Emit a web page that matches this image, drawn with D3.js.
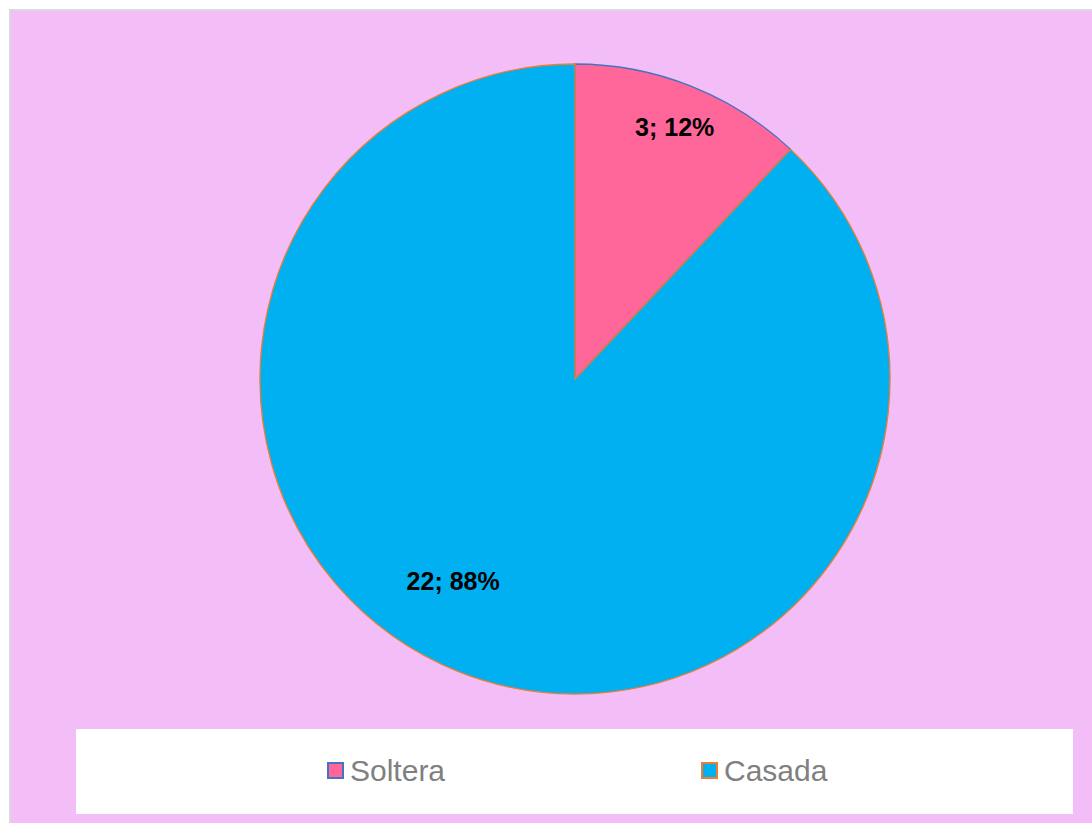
<!DOCTYPE html>
<html>
<head>
<meta charset="utf-8">
<script src="https://cdn.jsdelivr.net/npm/d3@7"></script>
<style>
  html, body { margin: 0; padding: 0; background: #ffffff; }
  svg { display: block; }
</style>
</head>
<body>
<svg id="chart" width="1092" height="823"></svg>
<script>
// Estado civil
const categories = ["Soltera", "Casada"];
const values = [3, 22];
const percents = [12, 88];
const fills = ["#FF6699", "#00B0F0"];
const strokes = ["#4472C4", "#ED7D31"];

const svg = d3.select("#chart");
const W = 1092, H = 823;

// chart area with thin grey frame
svg.append("rect").attr("x", 0).attr("y", 0).attr("width", W).attr("height", H).attr("fill", "#ffffff");
svg.append("rect").attr("x", 9).attr("y", 9).attr("width", W - 9).attr("height", H - 9).attr("fill", "#D9D9D9");
svg.append("rect").attr("x", 11).attr("y", 11).attr("width", W - 11).attr("height", H - 11).attr("fill", "#F3BDF8");

const cx = 575, cy = 379, r = 315;
const pie = d3.pie().sort(null).value(d => d.value);
const data = categories.map((c, i) => ({ name: c, value: values[i], pct: percents[i], i }));
const arcs = pie(data);
const arc = d3.arc().innerRadius(0).outerRadius(r);

const g = svg.append("g").attr("transform", `translate(${cx},${cy})`);
g.selectAll("path.slice")
  .data(arcs)
  .enter().append("path")
  .attr("class", "slice")
  .attr("d", arc)
  .attr("fill", d => fills[d.data.i])
  .attr("stroke", d => strokes[d.data.i])
  .attr("stroke-width", 1.3);

// data labels: "value; percent"
const labelPlace = [
  { da: 0.0, rf: 0.86 },
  { da: 0.165, rf: 0.75 }
];
g.selectAll("text.lbl")
  .data(arcs)
  .enter().append("text")
  .attr("class", "lbl")
  .attr("x", d => {
    const p = labelPlace[d.data.i];
    const a = (d.startAngle + d.endAngle) / 2 + p.da;
    return Math.sin(a) * r * p.rf;
  })
  .attr("y", d => {
    const p = labelPlace[d.data.i];
    const a = (d.startAngle + d.endAngle) / 2 + p.da;
    return -Math.cos(a) * r * p.rf + 9;
  })
  .attr("text-anchor", "middle")
  .attr("font-family", "Liberation Sans, Arial, sans-serif")
  .attr("font-weight", "bold")
  .attr("font-size", 25)
  .attr("fill", "#000000")
  .text(d => `${d.data.value}; ${d.data.pct}%`);

// legend
const lg = svg.append("g");
lg.append("rect").attr("x", 76).attr("y", 729).attr("width", 997).attr("height", 85).attr("fill", "#ffffff");
const legX = d3.scalePoint().domain(categories).range([327, 701]);
const items = lg.selectAll("g.item").data(categories).enter().append("g")
  .attr("class", "item")
  .attr("transform", d => `translate(${legX(d)},0)`);
items.append("rect")
  .attr("x", 1).attr("y", 763).attr("width", 15).attr("height", 15)
  .attr("fill", (d, i) => fills[i])
  .attr("stroke", (d, i) => strokes[i])
  .attr("stroke-width", 2);
items.append("text")
  .attr("x", 23).attr("y", 781)
  .attr("font-family", "Liberation Sans, Arial, sans-serif")
  .attr("font-size", 30)
  .attr("fill", "#808080")
  .text(d => d);
</script>
</body>
</html>
